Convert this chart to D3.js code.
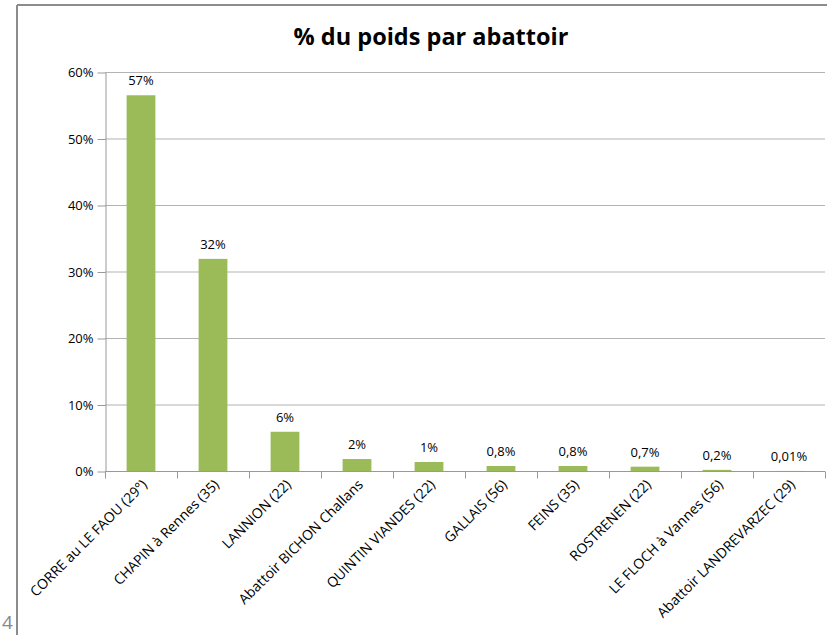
<!DOCTYPE html>
<html>
<head>
<meta charset="utf-8">
<script src="https://cdn.jsdelivr.net/npm/d3@7"></script>
<style>
  body { margin: 0; background: #fff; }
  svg { display: block; }
</style>
</head>
<body>
<svg id="chart" width="827" height="635"></svg>
<script>
// --- data ---
const categories = [
    "CORRE au LE FAOU (29°)", "CHAPIN à Rennes (35)", "LANNION (22)",
    "Abattoir BICHON Challans", "QUINTIN VIANDES (22)", "GALLAIS  (56)",
    "FEINS (35)", "ROSTRENEN  (22)", "LE FLOCH à Vannes (56)",
    "Abattoir LANDREVARZEC  (29)"
];
const values = [0.565, 0.319, 0.059, 0.018, 0.0135, 0.0075, 0.0075, 0.0065, 0.0017, 0.0001];
const valueLabels = ["57%", "32%", "6%", "2%", "1%", "0,8%", "0,8%", "0,7%", "0,2%", "0,01%"];
const yTicks = [0, 0.1, 0.2, 0.3, 0.4, 0.5, 0.6];

const svg = d3.select("#chart");
const font = "'Open Sans', 'DejaVu Sans', sans-serif";

// slide frame + page number
svg.append("line").attr("x1", 17).attr("x2", 827).attr("y1", 5).attr("y2", 5)
    .attr("stroke", "#8c8c8c").attr("stroke-width", 2);
svg.append("line").attr("x1", 17).attr("x2", 17).attr("y1", 5).attr("y2", 635)
    .attr("stroke", "#8c8c8c").attr("stroke-width", 2);
svg.append("text").attr("x", 2).attr("y", 629)
    .style("font-family", font).style("font-size", "19px").attr("fill", "#888")
    .text("4");

// title
svg.append("text").attr("x", 431).attr("y", 45).attr("text-anchor", "middle")
    .style("font-family", font).style("font-size", "23.5px").style("font-weight", "bold")
    .attr("fill", "#000").text("% du poids par abattoir");

const plotLeft = 105, plotRight = 825, plotTop = 72, plotBottom = 471;

const x = d3.scaleBand().domain(categories).range([plotLeft, plotRight]).paddingInner(0.6).paddingOuter(0.3);
const y = d3.scaleLinear().domain([0, 0.6]).range([plotBottom, plotTop]);

// gridlines
svg.append("g").selectAll("line").data(yTicks.filter(d => d > 0)).enter().append("line")
    .attr("x1", plotLeft).attr("x2", plotRight)
    .attr("y1", d => y(d) + 0.5).attr("y2", d => y(d) + 0.5)
    .attr("stroke", "#b3b3b3").attr("stroke-width", 1);

// y axis
const yAxis = svg.append("g").attr("transform", `translate(${plotLeft + 0.5},0.5)`)
    .call(d3.axisLeft(y).tickValues(yTicks).tickFormat(d3.format(".0%")).tickSize(8).tickSizeOuter(0));
yAxis.select(".domain").attr("stroke", "#999");
yAxis.selectAll(".tick line").attr("stroke", "#999");
yAxis.selectAll("text").attr("x", -12).style("font-family", font).style("font-size", "13px").attr("fill", "#000");

// bars
svg.append("g").selectAll("rect").data(values).enter().append("rect")
    .attr("x", (d, i) => x(categories[i]))
    .attr("width", x.bandwidth())
    .attr("y", d => y(d))
    .attr("height", d => plotBottom - y(d))
    .attr("fill", "#9bbb59");

// value labels
svg.append("g").selectAll("text").data(values).enter().append("text")
    .attr("x", (d, i) => x(categories[i]) + x.bandwidth() / 2)
    .attr("y", d => y(d) - 10)
    .attr("text-anchor", "middle")
    .style("font-family", font).style("font-size", "13px").attr("fill", "#000")
    .text((d, i) => valueLabels[i]);

// x axis
const xAxis = svg.append("g").attr("transform", `translate(0,${plotBottom + 0.5})`);
xAxis.append("line").attr("x1", plotLeft).attr("x2", plotRight).attr("stroke", "#999");
xAxis.selectAll(".tk").data(d3.range(categories.length + 1)).enter().append("line")
    .attr("x1", i => plotLeft + i * x.step() + 0.5)
    .attr("x2", i => plotLeft + i * x.step() + 0.5)
    .attr("y1", 0).attr("y2", 7).attr("stroke", "#999");
xAxis.selectAll(".lbl").data(categories).enter().append("text")
    .attr("transform", d => `translate(${x(d) + x.bandwidth() / 2 + 7},14) rotate(-45)`)
    .attr("text-anchor", "end")
    .style("font-family", font).style("font-size", "14px").attr("fill", "#000")
    .text(d => d);
</script>
</body>
</html>
